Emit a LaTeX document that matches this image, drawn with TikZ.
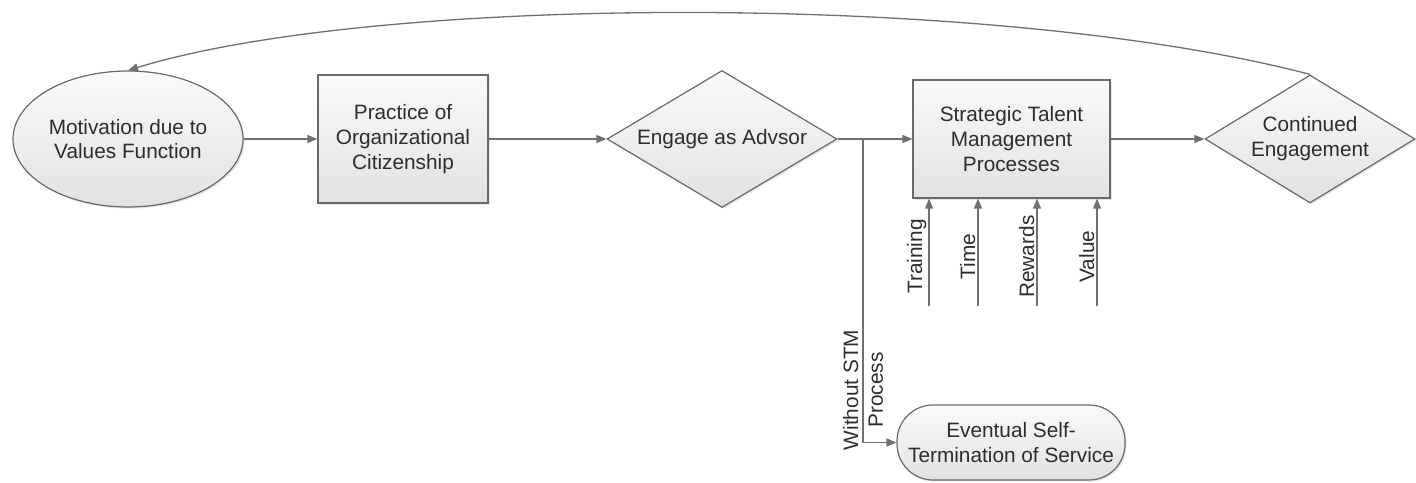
\documentclass[tikz,border=0pt]{standalone}
\usepackage{fontspec}
\setmainfont{Liberation Sans}
\usetikzlibrary{arrows.meta,positioning,shapes.geometric,shadows}
\definecolor{flowLine}{RGB}{112,112,112}
\definecolor{flowEdge}{RGB}{105,105,105}
\definecolor{flowText}{RGB}{45,45,45}
\definecolor{flowTop}{RGB}{250,250,250}
\definecolor{flowBottom}{RGB}{226,226,226}
\tikzset{
  shapeBase/.style={draw=flowEdge, line width=0.6pt, top color=flowTop, bottom color=flowBottom,
    text=flowText, font=\fontsize{10.4}{12.4}\selectfont, align=center,
    drop shadow={opacity=0.2, shadow xshift=0.8pt, shadow yshift=-0.8pt}},
  procBox/.style={shapeBase, rectangle, inner sep=2pt},
  startOval/.style={shapeBase, ellipse, inner sep=0pt},
  decision/.style={shapeBase, diamond, inner sep=0pt},
  endPill/.style={shapeBase, rectangle, rounded corners=18pt, inner sep=2pt},
  flow/.style={draw=flowLine, line width=0.65pt, -{Triangle[length=5pt,width=4pt]}},
  sideLabel/.style={text=flowText, font=\fontsize{10.4}{12.4}\selectfont, rotate=90, inner sep=1pt}
}
\begin{document}
\begin{tikzpicture}[x=0.5pt,y=0.5pt]
\useasboundingbox (0,0) rectangle (1416,482);
% main row
\node[startOval, minimum width=115pt, minimum height=68pt] (motiv) at (128,343) {Motivation due to\\Values Function};
\node[procBox, minimum width=85pt, minimum height=64pt] (practice) at (403,343) {Practice of\\Organizational\\Citizenship};
\node[decision, aspect=1.68, minimum width=115pt, minimum height=68.5pt] (advisor) at (722,343) {Engage as Advsor};
\node[procBox, minimum width=98.5pt, minimum height=59pt] (stm) at (1011.5,343) {Strategic Talent\\Management\\Processes};
\node[decision, aspect=1.64, minimum width=105pt, minimum height=64pt] (cont) at (1310,343) {Continued\\Engagement};
% exit branch
\node[endPill, minimum width=114pt, minimum height=37.5pt] (term) at (1011,39.5) {Eventual Self-\\Termination of Service};

\draw[flow] (motiv) -- (practice);
\draw[flow] (practice) -- (advisor);
\draw[flow] (advisor) -- (stm);
\draw[flow] (stm) -- (cont);
\coordinate (split) at (863,343);
\draw[flow] (split) |- (term.west);
\node[sideLabel, align=center] (without) at (863,92) {Without STM\\Process};

% inputs to STM
\foreach \lbl/\xpos in {Training/929, Time/978, Rewards/1037, Value/1097} {
  \coordinate (in\lbl) at (\xpos,176);
  \draw[flow] (in\lbl) -- (in\lbl |- stm.south) node[sideLabel, pos=0.46, anchor=south] {\lbl};
}

% feedback loop
\draw[flow] (cont.north) .. controls (1000,489) and (380,489) .. (motiv.north);
\end{tikzpicture}
\end{document}
